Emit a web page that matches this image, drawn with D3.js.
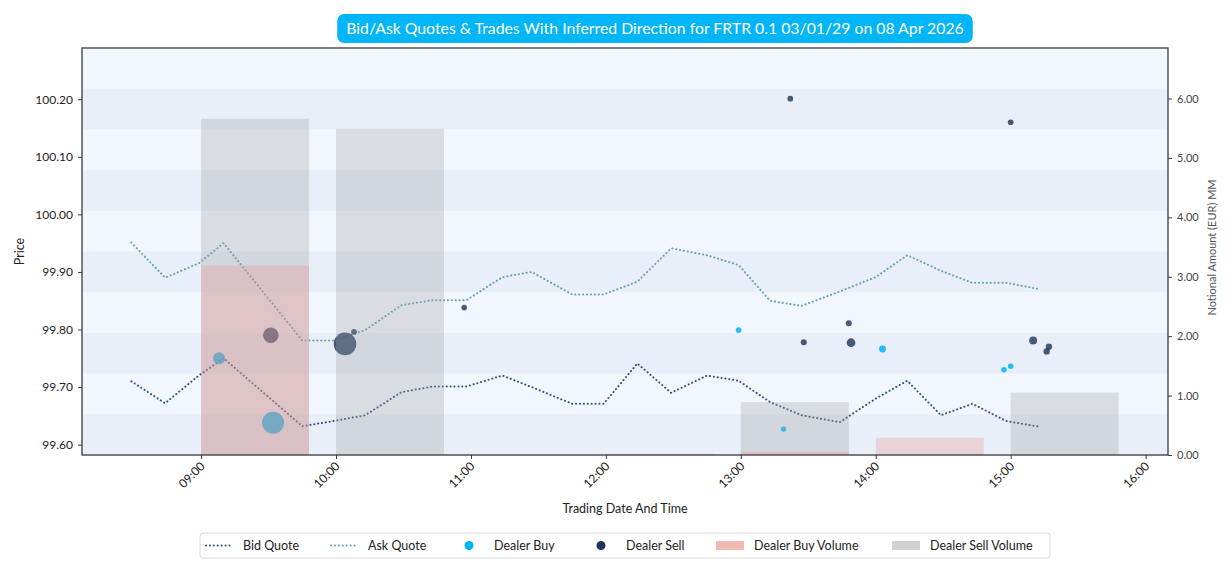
<!DOCTYPE html>
<html>
<head>
<meta charset="utf-8">
<script src="https://cdn.jsdelivr.net/npm/d3@7"></script>
<style>
  body { margin: 0; background: #fff; }
  svg { font-family: Lato, "Noto Sans", sans-serif; }
</style>
</head>
<body>
<div id="chart"></div>
<script>
// Quote snapshots (time, bid, ask)
var quoteTimes = ["08:29","08:44","08:59","09:10","09:45","09:59","10:13","10:29","10:43","10:58","11:14","11:27","11:45","11:59","12:14","12:29","12:45","12:59","13:13","13:27","13:44","14:00","14:14","14:29","14:43","14:58","15:13"];
var bidQuote = [99.710,99.672,99.720,99.750,99.632,99.641,99.651,99.691,99.701,99.701,99.720,99.700,99.671,99.671,99.741,99.690,99.720,99.711,99.674,99.651,99.639,99.680,99.711,99.651,99.671,99.641,99.631];
var askQuote = [99.951,99.890,99.915,99.950,99.781,99.781,99.799,99.842,99.851,99.851,99.891,99.900,99.861,99.861,99.883,99.941,99.929,99.912,99.850,99.841,99.866,99.891,99.929,99.902,99.881,99.881,99.870];

// Trades
var buyTimes = ["09:08","09:32","12:59","13:19","14:03","14:57","15:00"];
var buyPrices = [99.750,99.638,99.799,99.627,99.766,99.730,99.736];
var buyNotional = [0.75,2.52,0.17,0.15,0.25,0.16,0.16];

var sellTimes = ["09:31","10:04","10:08","10:57","13:22","13:28","13:48","13:49","15:00","15:10","15:16","15:17"];
var sellPrices = [99.790,99.775,99.796,99.838,100.201,99.778,99.811,99.777,100.160,99.781,99.762,99.770];
var sellNotional = [1.27,2.66,0.17,0.16,0.17,0.19,0.19,0.40,0.17,0.33,0.21,0.21];

// Hourly volumes (EUR MM)
var buyVolHours = ["09:00","12:00","13:00","14:00"];
var buyVolume = [3.19,0.02,0.06,0.29];
var sellVolHours = ["09:00","10:00","13:00","15:00"];
var sellVolume = [5.66,5.49,0.89,1.05];

var priceTicks = [99.6, 99.7, 99.8, 99.9, 100.0, 100.1, 100.2];
var volumeTicks = [0, 1, 2, 3, 4, 5, 6];
var hourTicks = ["09:00","10:00","11:00","12:00","13:00","14:00","15:00","16:00"];

var titleText = "Bid/Ask Quotes & Trades With Inferred Direction for FRTR 0.1 03/01/29 on 08 Apr 2026";

// SVG dimensions
var svgWidth = 1231;
var svgHeight = 573;
var margin = { top: 48, right: 63, bottom: 118, left: 82 };
var width = svgWidth - margin.left - margin.right;
var height = svgHeight - margin.top - margin.bottom;

var parseTime = d3.timeParse("%H:%M");
var barMinutes = 48;

var quotes = quoteTimes.map(function (t, i) {
  return { time: parseTime(t), bid: bidQuote[i], ask: askQuote[i] };
});
var buys = buyTimes.map(function (t, i) {
  return { time: parseTime(t), price: buyPrices[i], size: buyNotional[i] };
});
var sells = sellTimes.map(function (t, i) {
  return { time: parseTime(t), price: sellPrices[i], size: sellNotional[i] };
});
var buyBars = buyVolHours.map(function (t, i) {
  return { time: parseTime(t), value: buyVolume[i] };
});
var sellBars = sellVolHours.map(function (t, i) {
  return { time: parseTime(t), value: sellVolume[i] };
});

var svg = d3.select("#chart")
  .append("svg")
  .attr("width", svgWidth)
  .attr("height", svgHeight);

// x extent with 5% padding, like matplotlib margins
var allTimes = [];
quotes.forEach(function (d) { allTimes.push(d.time); });
buys.concat(sells).forEach(function (d) { allTimes.push(d.time); });
buyBars.concat(sellBars).forEach(function (d) {
  allTimes.push(d.time);
  allTimes.push(d3.timeMinute.offset(d.time, barMinutes));
});
var tExt = d3.extent(allTimes);
var pad = (tExt[1] - tExt[0]) * 0.05;

var xScale = d3.scaleTime()
  .domain([new Date(+tExt[0] - pad), new Date(+tExt[1] + pad)])
  .range([0, width]);

var yPrice = d3.scaleLinear()
  .domain([99.582, 100.289])
  .range([height, 0]);

var yVolume = d3.scaleLinear()
  .domain([0, 6.85])
  .range([height, 0]);

var rScale = d3.scaleSqrt()
  .domain([0, 3])
  .range([0, 12]);

var chartGroup = svg.append("g")
  .attr("transform", `translate(${margin.left}, ${margin.top})`);

// Alternating background bands
var nBands = 10;
chartGroup.append("g").selectAll("rect")
  .data(d3.range(nBands))
  .enter()
  .append("rect")
  .attr("x", 0)
  .attr("y", d => d * height / nBands)
  .attr("width", width)
  .attr("height", height / nBands + 0.5)
  .attr("fill", d => d % 2 === 0 ? "#f2f7fd" : "#e8eff8");

// Quote lines
var bidLine = d3.line().x(d => xScale(d.time)).y(d => yPrice(d.bid));
var askLine = d3.line().x(d => xScale(d.time)).y(d => yPrice(d.ask));

chartGroup.append("path")
  .datum(quotes)
  .attr("d", askLine)
  .attr("fill", "none")
  .attr("stroke", "#5e9fab")
  .attr("stroke-width", 2)
  .attr("stroke-linecap", "round")
  .attr("stroke-dasharray", "0.1 3.8");

chartGroup.append("path")
  .datum(quotes)
  .attr("d", bidLine)
  .attr("fill", "none")
  .attr("stroke", "#34507a")
  .attr("stroke-width", 2)
  .attr("stroke-linecap", "round")
  .attr("stroke-dasharray", "0.1 3.8");

// Trades
chartGroup.append("g").selectAll("circle")
  .data(buys)
  .enter()
  .append("circle")
  .attr("cx", d => xScale(d.time))
  .attr("cy", d => yPrice(d.price))
  .attr("r", d => rScale(d.size))
  .attr("fill", "#00b4f5")
  .attr("opacity", 0.85);

chartGroup.append("g").selectAll("circle")
  .data(sells)
  .enter()
  .append("circle")
  .attr("cx", d => xScale(d.time))
  .attr("cy", d => yPrice(d.price))
  .attr("r", d => rScale(d.size))
  .attr("fill", "#1d3557")
  .attr("opacity", 0.8);

// Volume bars (drawn on the twin axis, on top)
chartGroup.append("g").selectAll("rect")
  .data(sellBars)
  .enter()
  .append("rect")
  .attr("x", d => xScale(d.time))
  .attr("y", d => yVolume(d.value))
  .attr("width", d => xScale(d3.timeMinute.offset(d.time, barMinutes)) - xScale(d.time))
  .attr("height", d => height - yVolume(d.value))
  .attr("fill", "#a0a0a0")
  .attr("fill-opacity", 0.3);

chartGroup.append("g").selectAll("rect")
  .data(buyBars)
  .enter()
  .append("rect")
  .attr("x", d => xScale(d.time))
  .attr("y", d => yVolume(d.value))
  .attr("width", d => xScale(d3.timeMinute.offset(d.time, barMinutes)) - xScale(d.time))
  .attr("height", d => height - yVolume(d.value))
  .attr("fill", "#f08a88")
  .attr("fill-opacity", 0.28);

// Frame
chartGroup.append("rect")
  .attr("width", width)
  .attr("height", height)
  .attr("fill", "none")
  .attr("stroke", "#3a3a3a")
  .attr("stroke-width", 1.3);

// Axes
var leftAxis = d3.axisLeft(yPrice).tickValues(priceTicks).tickFormat(d3.format(".2f")).tickSize(4).tickPadding(5);
var rightAxis = d3.axisRight(yVolume).tickValues(volumeTicks).tickFormat(d3.format(".2f")).tickSize(4).tickPadding(5);
var bottomAxis = d3.axisBottom(xScale).tickValues(hourTicks.map(parseTime)).tickFormat(d3.timeFormat("%H:%M")).tickSize(4);

var gl = chartGroup.append("g").call(leftAxis);
gl.selectAll("text").attr("font-size", "12px").attr("fill", "#222");

var gr = chartGroup.append("g").attr("transform", `translate(${width},0)`).call(rightAxis);
gr.selectAll("text").attr("font-size", "11px").attr("fill", "#444");

var gb = chartGroup.append("g").attr("transform", `translate(0,${height})`).call(bottomAxis);
gb.selectAll("text")
  .attr("font-size", "12px")
  .attr("fill", "#222")
  .attr("text-anchor", "end")
  .attr("y", 0)
  .attr("dy", "0")
  .attr("transform", "translate(4,12) rotate(-45)");

[gl, gr, gb].forEach(function (g) {
  g.select(".domain").remove();
  g.selectAll("line").attr("stroke", "#3a3a3a");
  g.attr("font-family", null);
});

// Axis labels
chartGroup.append("text")
  .attr("x", width / 2)
  .attr("y", height + 58)
  .attr("text-anchor", "middle")
  .attr("font-size", "12.5px")
  .attr("fill", "#222")
  .text("Trading Date And Time");

chartGroup.append("text")
  .attr("transform", "rotate(-90)")
  .attr("x", -height / 2)
  .attr("y", -margin.left + 24)
  .attr("text-anchor", "middle")
  .attr("font-size", "12.5px")
  .attr("fill", "#222")
  .text("Price");

chartGroup.append("text")
  .attr("transform", "rotate(-90)")
  .attr("x", -height / 2 + 4)
  .attr("y", width + 48)
  .attr("text-anchor", "middle")
  .attr("font-size", "11px")
  .attr("fill", "#555")
  .text("Notional Amount (EUR) MM");

// Title pill
var titleGroup = svg.append("g");
var titleRect = titleGroup.append("rect")
  .attr("fill", "#00b5f8")
  .attr("rx", 7);
var titleLabel = titleGroup.append("text")
  .attr("x", 655)
  .attr("y", 34)
  .attr("text-anchor", "middle")
  .attr("font-size", "15.8px")
  .attr("fill", "#fff")
  .text(titleText);
var tb = titleLabel.node().getBBox();
titleRect
  .attr("x", tb.x - 9)
  .attr("y", 14)
  .attr("width", tb.width + 18)
  .attr("height", 29);

// Legend
var legendItems = [
  { label: "Bid Quote", kind: "line", color: "#34507a", x: 205 },
  { label: "Ask Quote", kind: "line", color: "#5e9fab", x: 330 },
  { label: "Dealer Buy", kind: "dot", color: "#00b4f5", x: 457 },
  { label: "Dealer Sell", kind: "dot", color: "#1d3557", x: 589 },
  { label: "Dealer Buy Volume", kind: "patch", color: "#f2b8b2", x: 716 },
  { label: "Dealer Sell Volume", kind: "patch", color: "#d0d0d0", x: 892 }
];

var legend = svg.append("g");
legend.append("rect")
  .attr("x", 200)
  .attr("y", 533)
  .attr("width", 850)
  .attr("height", 25)
  .attr("rx", 3)
  .attr("fill", "#fff")
  .attr("stroke", "#d8d8d8");

var ly = 545.5;
legendItems.forEach(function (item) {
  var g = legend.append("g").attr("transform", `translate(${item.x},${ly})`);
  var textX;
  if (item.kind === "line") {
    g.append("line")
      .attr("x1", 1).attr("x2", 27)
      .attr("stroke", item.color)
      .attr("stroke-width", 2)
      .attr("stroke-linecap", "round")
      .attr("stroke-dasharray", "0.1 3.8");
    textX = 38;
  } else if (item.kind === "dot") {
    g.append("circle")
      .attr("cx", 12)
      .attr("r", 4.5)
      .attr("fill", item.color);
    textX = 37;
  } else {
    g.append("rect")
      .attr("x", 0).attr("y", -4.5)
      .attr("width", 28).attr("height", 9)
      .attr("fill", item.color);
    textX = 38;
  }
  g.append("text")
    .attr("x", textX)
    .attr("dy", "0.35em")
    .attr("font-size", "12.5px")
    .attr("fill", "#222")
    .text(item.label);
});
</script>
</body>
</html>
